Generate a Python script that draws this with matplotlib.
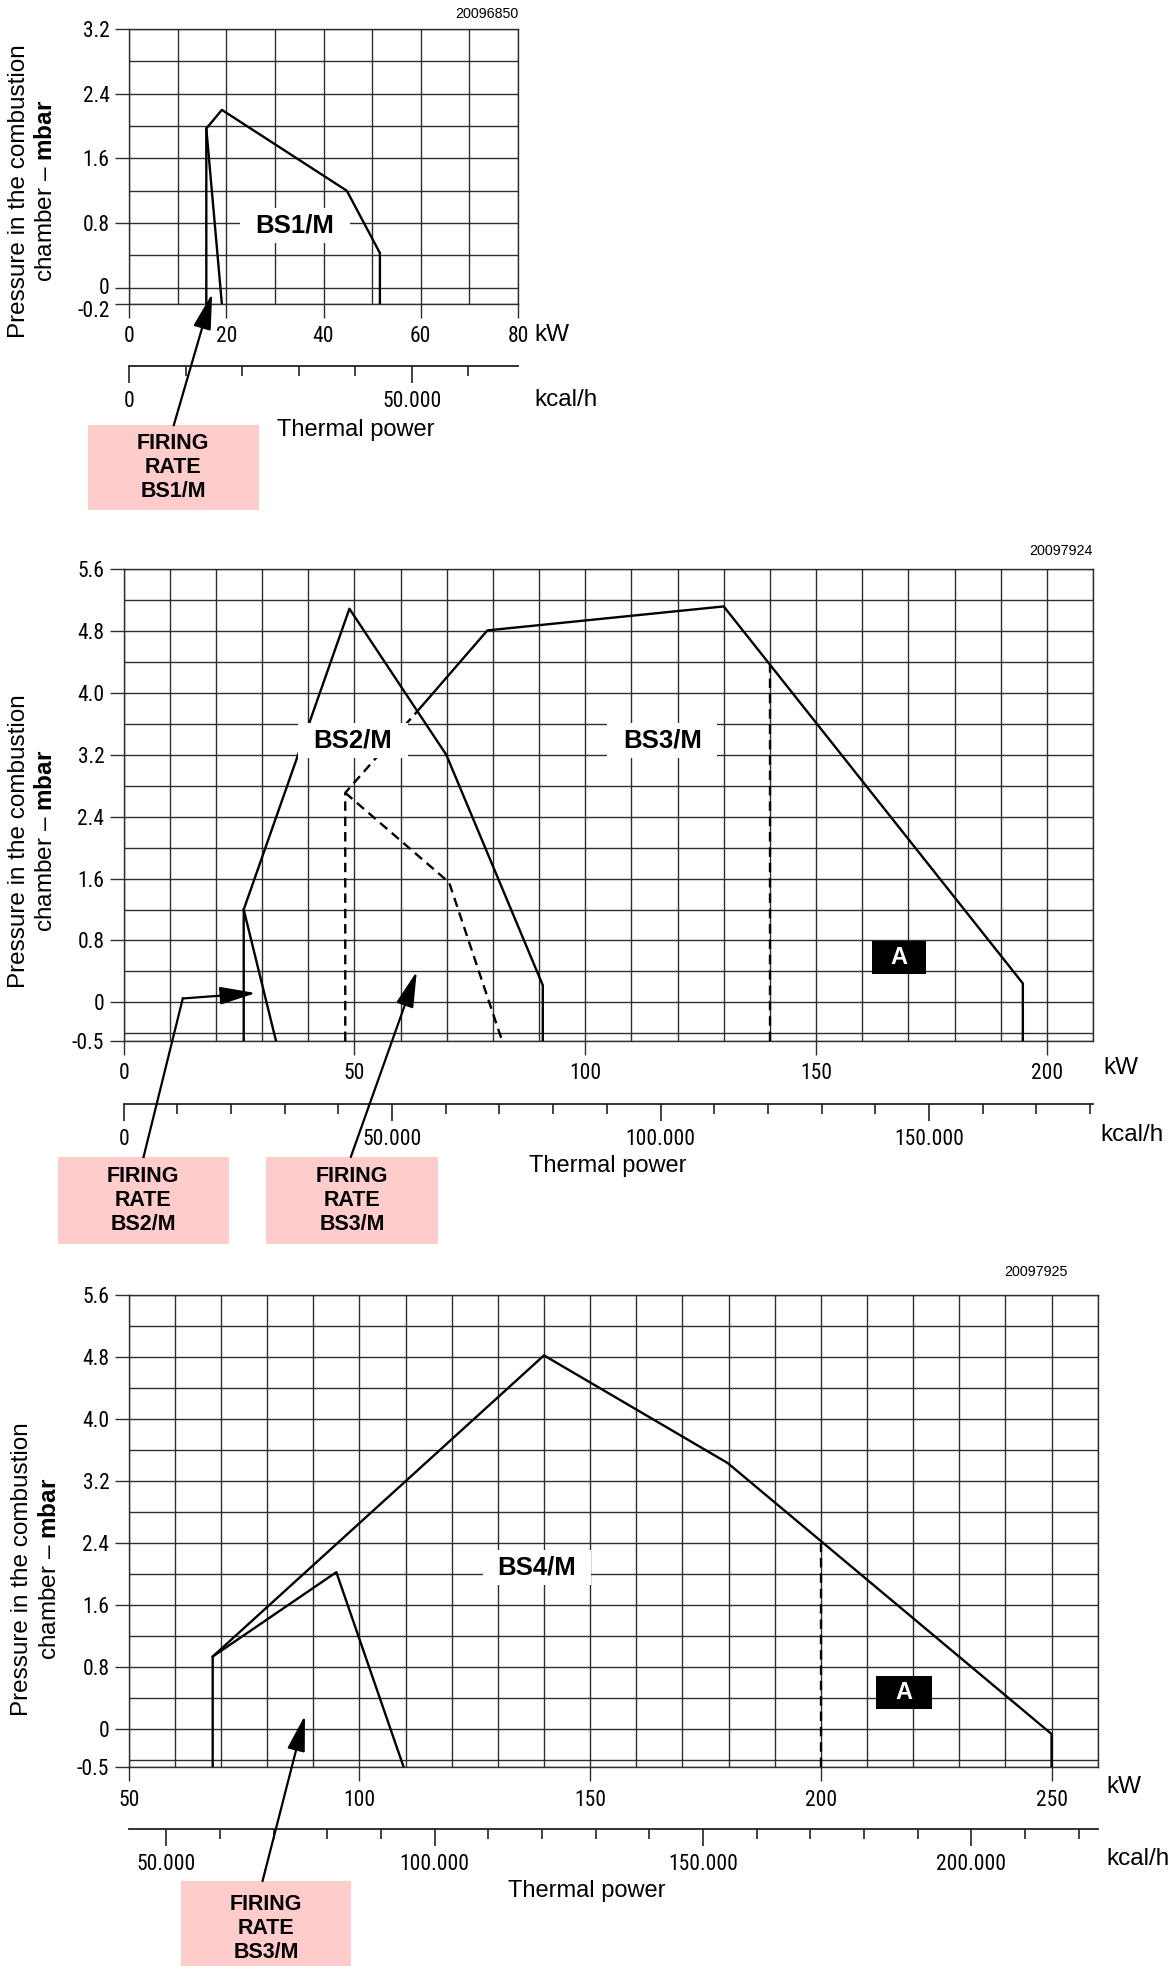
import matplotlib
matplotlib.use('Agg')
import matplotlib.pyplot as plt
import matplotlib.transforms as mtrans
from matplotlib.patches import Rectangle
from matplotlib import font_manager

plt.rcParams['font.family'] = ['Liberation Sans', 'DejaVu Sans']
plt.rcParams['mathtext.fontset'] = 'custom'
plt.rcParams['mathtext.rm'] = 'Liberation Sans'
plt.rcParams['mathtext.bf'] = 'Liberation Sans:bold'

KCAL = 859.845  # kcal/h per kW

# ---------------- data (kW, mbar) ----------------
# BS1/M
bs1_x = [15.9, 15.9, 19.1, 44.8, 51.6, 51.6]
bs1_y = [-0.2, 1.97, 2.2, 1.2, 0.43, -0.2]
bs1_fr_x = [15.9, 19.1]
bs1_fr_y = [1.97, -0.2]

# BS2/M
bs2_x = [26.0, 26.0, 48.9, 69.9, 90.8, 90.8]
bs2_y = [-0.5, 1.2, 5.09, 3.2, 0.22, -0.5]
bs2_fr_x = [26.0, 33.0]
bs2_fr_y = [1.2, -0.5]

# BS3/M
bs3_x = [63.7, 78.8, 130.0, 194.8, 194.8]
bs3_y = [3.77, 4.81, 5.12, 0.245, -0.5]
bs3_in_x = [48.0, 48.0, 63.7]
bs3_in_y = [-0.5, 2.71, 3.77]
bs3_fr_x = [48.0, 70.5, 82.0]
bs3_fr_y = [2.71, 1.55, -0.5]
bs3_lim_x = [140.0, 140.0]
bs3_lim_y = [-0.5, 4.36]

# BS4/M
bs4_x = [68.2, 68.2, 140.0, 179.8, 250.0, 250.0]
bs4_y = [-0.5, 0.93, 4.82, 3.43, -0.07, -0.5]
bs4_fr_x = [68.2, 95.0, 109.6]
bs4_fr_y = [0.93, 2.02, -0.5]
bs4_lim_x = [200.0, 200.0]
bs4_lim_y = [-0.5, 2.4]

# axes ticks
x1_ticks = [0, 20, 40, 60, 80]
y1_ticks = [3.2, 2.4, 1.6, 0.8, 0, -0.2]
y1_labels = ['3.2', '2.4', '1.6', '0.8', '0', '-0.2']
x2_ticks = [0, 50, 100, 150, 200]
x3_ticks = [50, 100, 150, 200, 250]
y23_ticks = [5.6, 4.8, 4.0, 3.2, 2.4, 1.6, 0.8, 0, -0.5]
y23_labels = ['5.6', '4.8', '4.0', '3.2', '2.4', '1.6', '0.8', '0', '-0.5']

kcal1_major = [0, 50000]
kcal2_major = [0, 50000, 100000, 150000]
kcal3_major = [50000, 100000, 150000, 200000]

# condensed face for the tick numbers, if one is installed
TICK_FP = None
_cands = []
for f in font_manager.fontManager.ttflist:
    st = str(f.stretch).lower()
    if ('narrow' in f.name.lower() or 'condensed' in f.name.lower() or 'condensed' in st) \
            and f.style == 'normal' and str(f.weight) in ('400', 'normal', 'regular'):
        _cands.append(f)
for key in ['Liberation', 'Roboto', 'Open Sans', 'Noto Sans', 'DejaVu', '']:
    hits = [f for f in _cands if key in f.name and 'extra' not in str(f.stretch).lower()]
    if hits:
        TICK_FP = font_manager.FontProperties(fname=hits[0].fname, size=15.5)
        break
if TICK_FP is None:
    TICK_FP = font_manager.FontProperties(family='Liberation Sans', size=14)

W, H = 1176, 1966
fig = plt.figure(figsize=(W / 100, H / 100), dpi=100)
fig.patch.set_facecolor('white')

GRID = '#2e2e2e'


def px_axes(left, top, right, bottom):
    return fig.add_axes([left / W, 1 - bottom / H, (right - left) / W, (bottom - top) / H])


def frame(ax, xlim, ylim, xstep, ygrid, xticks, yticks, ylabels, kcal_loc, kcal_major):
    ax.set_xlim(xlim)
    ax.set_ylim(ylim)
    xg = list(range(xlim[0], xlim[1] + 1, xstep))
    ax.set_xticks(xg, minor=True)
    ax.set_yticks(ygrid, minor=True)
    ax.set_xticks(xticks, labels=[str(v) for v in xticks], fontproperties=TICK_FP)
    ax.set_yticks(yticks, labels=ylabels, fontproperties=TICK_FP)
    ax.tick_params(which='major', length=10, width=1.0, color=GRID)
    ax.tick_params(axis='x', pad=6)
    ax.tick_params(axis='y', pad=4)
    ax.tick_params(which='minor', length=0)
    ax.grid(which='both', color=GRID, lw=1.0)
    for s in ax.spines.values():
        s.set_color(GRID)
        s.set_linewidth(1.0)
    ax.set_axisbelow(True)

    sec = ax.secondary_xaxis(kcal_loc, functions=(lambda p: p * KCAL, lambda q: q / KCAL))
    lo = xlim[0] * KCAL
    hi = xlim[1] * KCAL
    minor = [v for v in range(0, 300001, 10000) if lo <= v <= hi]
    sec.set_xticks(kcal_major, labels=[f'{v:,}'.replace(',', '.') for v in kcal_major],
                   fontproperties=TICK_FP)
    sec.set_xticks(minor, minor=True)
    sec.tick_params(which='major', length=12, width=1.2, color='#222222', pad=6)
    sec.tick_params(which='minor', length=7, width=1.2, color='#222222')
    for s in sec.spines.values():
        s.set_color('#222222')
        s.set_linewidth(1.3)
    return sec


def label_box(ax, x, y, w, h, text):
    ax.add_patch(Rectangle((x - w / 2, y - h / 2), w, h, facecolor='white',
                           edgecolor='none', zorder=4))
    ax.text(x, y, text, ha='center', va='center', fontsize=18.5,
            fontweight='bold', zorder=5)


def a_box(ax, x, y, w, h):
    ax.add_patch(Rectangle((x - w / 2, y - h / 2), w, h, facecolor='black',
                           edgecolor='none', zorder=4))
    ax.text(x, y, 'A', ha='center', va='center', fontsize=17, color='white',
            fontweight='bold', zorder=5)


def firing_box(ax, x0, x1, y0, y1, name):
    ax.add_patch(Rectangle((x0, y1), x1 - x0, y0 - y1, facecolor='#ffcccc',
                           edgecolor='none', clip_on=False, zorder=1))
    ax.text((x0 + x1) / 2, y0 + (y1 - y0) * 0.5, 'FIRING\nRATE\n' + name,
            ha='center', va='center', fontsize=15.5, fontweight='bold',
            linespacing=1.18, clip_on=False, zorder=6)


def arrow(ax, start, tip):
    ax.annotate('', xy=tip, xytext=start,
                arrowprops=dict(arrowstyle='-|>,head_length=2.2,head_width=0.55',
                                color='black', lw=1.6, shrinkA=0, shrinkB=0,
                                mutation_scale=10, clip_on=False),
                annotation_clip=False, zorder=6)


def ylabel(xpx1, xpx2, ypx):
    fig.text(xpx1 / W, 1 - ypx / H, 'Pressure in the combustion', rotation=90,
             ha='center', va='center', fontsize=17.5)
    fig.text(xpx2 / W, 1 - ypx / H, 'chamber – $\\mathbf{mbar}$', rotation=90,
             ha='center', va='center', fontsize=17.5)


def nudge(label, dy_px):
    label.set_transform(label.get_transform() +
                        mtrans.ScaledTranslation(0, dy_px / 100, fig.dpi_scale_trans))


LW = 1.7
DLW = 1.7
DASH = (0, (4.0, 2.5))
UNIT_FS = 17.5
TP_FS = 17
ID_FS = 10.3

# ---------------- chart 1 ----------------
ax1 = px_axes(129, 29, 518, 304)
frame(ax1, (0, 80), (-0.2, 3.2), 10,
      [-0.2, 0, 0.4, 0.8, 1.2, 1.6, 2.0, 2.4, 2.8, 3.2],
      x1_ticks, y1_ticks, y1_labels, -0.2255, kcal1_major)
# the "0" and "-0.2" labels sit very close, as in the original: spread them a little
yt = ax1.yaxis.get_major_ticks()
nudge(yt[4].label1, 1.5)
nudge(yt[5].label1, -5)
ax1.plot(bs1_x, bs1_y, color='black', lw=LW, zorder=3)
ax1.plot(bs1_fr_x, bs1_fr_y, color='black', lw=LW, zorder=3)
label_box(ax1, 34.1, 0.77, 22.5, 0.44, 'BS1/M')
firing_box(ax1, -8.5, 26.75, -1.695, -2.75, 'BS1/M')
arrow(ax1, (9.2, -1.70), (17.1, -0.07))
ax1.text(80, 3.385, '20096850', ha='right', va='center', fontsize=ID_FS)
ax1.text(83.3, -0.58, 'kW', ha='left', va='center', fontsize=UNIT_FS)
ax1.text(83.3, -1.39, 'kcal/h', ha='left', va='center', fontsize=UNIT_FS)
ax1.text(46.7, -1.76, 'Thermal power', ha='center', va='center', fontsize=TP_FS)
ylabel(19, 46, 191)

# ---------------- chart 2 ----------------
ygrid23 = [-0.5, -0.4, 0, 0.4, 0.8, 1.2, 1.6, 2.0, 2.4, 2.8, 3.2, 3.6, 4.0, 4.4, 4.8, 5.2, 5.6]
ax2 = px_axes(123.7, 569.3, 1093, 1041)
frame(ax2, (0, 210), (-0.5, 5.6), 10, ygrid23, x2_ticks, y23_ticks, y23_labels,
      -0.1336, kcal2_major)
ax2.plot(bs2_x, bs2_y, color='black', lw=LW, zorder=3)
ax2.plot(bs2_fr_x, bs2_fr_y, color='black', lw=LW, zorder=3)
ax2.plot(bs3_x, bs3_y, color='black', lw=LW, zorder=3)
ax2.plot(bs3_in_x, bs3_in_y, color='black', lw=DLW, ls=DASH, zorder=3)
ax2.plot(bs3_fr_x, bs3_fr_y, color='black', lw=DLW, ls=DASH, zorder=3)
ax2.plot(bs3_lim_x, bs3_lim_y, color='black', lw=DLW, ls=DASH, zorder=3)
label_box(ax2, 49.6, 3.39, 23.8, 0.45, 'BS2/M')
label_box(ax2, 116.7, 3.39, 23.8, 0.45, 'BS3/M')
a_box(ax2, 168.0, 0.58, 11.8, 0.42)
firing_box(ax2, -14.3, 22.8, -2.0, -3.12, 'BS2/M')
firing_box(ax2, 30.9, 68.0, -2.0, -3.12, 'BS3/M')
ax2.plot([4.3, 12.8], [-2.0, 0.05], color='black', lw=1.6, clip_on=False, zorder=6)
arrow(ax2, (12.8, 0.05), (28.6, 0.12))
arrow(ax2, (49.2, -2.0), (63.5, 0.40))
ax2.text(210, 5.84, '20097924', ha='right', va='center', fontsize=ID_FS)
ax2.text(212.2, -0.85, 'kW', ha='left', va='center', fontsize=UNIT_FS)
ax2.text(211.5, -1.71, 'kcal/h', ha='left', va='center', fontsize=UNIT_FS)
ax2.text(104.8, -2.12, 'Thermal power', ha='center', va='center', fontsize=TP_FS)
ylabel(19, 46, 841)

# ---------------- chart 3 ----------------
ax3 = px_axes(128.7, 1295, 1097.7, 1767.3)
frame(ax3, (50, 260), (-0.5, 5.6), 10, ygrid23, x3_ticks, y23_ticks, y23_labels,
      -0.130, kcal3_major)
ax3.plot(bs4_x, bs4_y, color='black', lw=LW, zorder=3)
ax3.plot(bs4_fr_x, bs4_fr_y, color='black', lw=LW, zorder=3)
ax3.plot(bs4_lim_x, bs4_lim_y, color='black', lw=DLW, ls=DASH, zorder=3)
label_box(ax3, 138.5, 2.08, 23.5, 0.45, 'BS4/M')
a_box(ax3, 218.0, 0.465, 12.0, 0.43)
firing_box(ax3, 61.3, 98.2, -1.97, -3.2, 'BS3/M')
arrow(ax3, (79.0, -1.97), (88.2, 0.17))
ax3.text(253.4, 5.9, '20097925', ha='right', va='center', fontsize=ID_FS)
ax3.text(261.8, -0.75, 'kW', ha='left', va='center', fontsize=UNIT_FS)
ax3.text(261.8, -1.68, 'kcal/h', ha='left', va='center', fontsize=UNIT_FS)
ax3.text(149.2, -2.1, 'Thermal power', ha='center', va='center', fontsize=TP_FS)
ylabel(22, 50, 1569)

fig.savefig('out.png', dpi=100, facecolor='white')
